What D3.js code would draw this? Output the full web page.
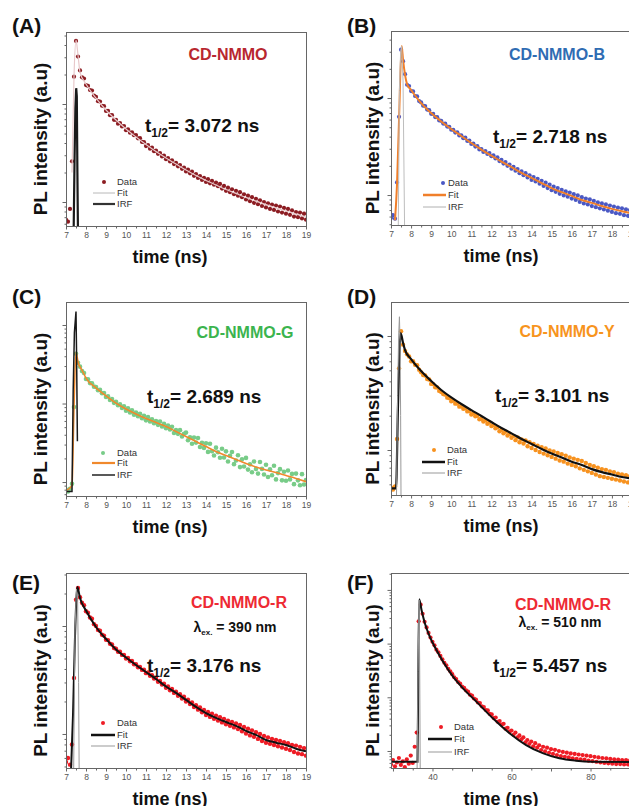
<!DOCTYPE html>
<html>
<head>
<meta charset="utf-8">
<script src="https://cdn.jsdelivr.net/npm/d3@7"></script>
<style>
  body { margin: 0; background: #fff; }
  svg { display: block; }
  text { font-family: "Liberation Sans", Arial, sans-serif; }
</style>
</head>
<body>
<svg id="fig" width="629" height="806"></svg>
<script>
// ---- values ----
// decay data: counts per channel, panels A-E start at 7.0 ns with 0.1 ns spacing,
// panel F starts at 29.5 ns with 0.5 ns spacing
const dataStartNs = 7.0, dataStepNs = 0.1;
const dataStartF = 29.5, dataStepF = 0.5;

const sampleNames = ["CD-NMMO", "CD-NMMO-B", "CD-NMMO-G", "CD-NMMO-Y", "CD-NMMO-R", "CD-NMMO-R"];
const halfLives = ["3.072", "2.718", "2.689", "3.101", "3.176", "5.457"];
const excitation = [null, null, null, null, "390", "510"];
const legendLabels = ["Data", "Fit", "IRF"];
const timeTicks = [7, 8, 9, 10, 11, 12, 13, 14, 15, 16, 17, 18, 19];
const timeTicksF = [30, 40, 50, 60, 70, 80, 90];
const timeLabelsF = [40, 60, 80];

const dataA = [
  66, 63, 85, 260, 1900, 4400, 3050, 2200, 1870, 1820,
  1560, 1530, 1390, 1370, 1220, 1180, 1070, 1060, 960, 950,
  850, 850, 770, 770, 690, 690, 630, 640, 590, 595,
  540, 552, 510, 515, 480, 482, 446, 448, 410, 408,
  372, 381, 350, 358, 330, 335, 310, 316, 292, 297,
  273, 281, 259, 266, 244, 251, 231, 238, 218, 225,
  205, 214, 196, 204, 185, 193, 176, 184, 168, 176,
  160, 171, 155, 164, 150, 158, 145, 153, 137, 146,
  130, 140, 126, 135, 120, 130, 116, 126, 112, 120,
  106, 116, 102, 112, 98, 108, 95, 104, 91, 100,
  88, 97, 85, 94, 83, 92, 80, 90, 78, 87,
  76, 85, 74, 82, 71, 79, 70, 78, 68, 76,
  66
];
const fitA = [[7.3, 200], [7.4, 1900], [7.5, 4500], [7.6, 3160], [7.7, 2120], [8.0, 1600], [8.5, 1150],
  [9.0, 869], [9.5, 687], [10.0, 556], [10.5, 461], [11.0, 386], [11.5, 327], [12.0, 281], [12.5, 244],
  [13.0, 212], [13.5, 186], [14.0, 166], [14.5, 149], [15.0, 134], [15.5, 122], [16.0, 111], [16.5, 102],
  [17.0, 94], [17.5, 87], [18.0, 81], [18.5, 75.5], [19.0, 70]];
const irfA = [[7.38, 45], [7.43, 300], [7.47, 900], [7.51, 1450], [7.54, 1200], [7.57, 200], [7.6, 45]];

const dataB = [
  58, 62, 57, 135, 640, 3150, 2400, 1760, 1370, 1330,
  1180, 1170, 1050, 1040, 930, 900, 835, 826, 760, 750,
  688, 686, 637, 635, 588, 582, 545, 544, 508, 506,
  471, 470, 440, 444, 412, 413, 385, 390, 361, 364,
  336, 340, 316, 319, 295, 298, 278, 284, 265, 271,
  251, 257, 238, 244, 224, 230, 211, 219, 200, 206,
  187, 195, 178, 185, 168, 175, 160, 168, 152, 160,
  143, 153, 138, 147, 131, 140, 124, 134, 118, 128,
  112, 122, 108, 118, 103, 113, 99, 109, 96, 106,
  92, 102, 89, 99, 85, 95, 82, 92, 80, 90,
  77, 87, 75, 84, 73, 82, 71, 80, 69, 78,
  67, 76, 65, 74, 64, 73, 62, 71, 61, 70,
  60
];
const fitB = [[7.2, 55], [7.3, 130], [7.4, 600], [7.53, 3440], [7.6, 2470], [7.7, 1730], [7.8, 1390],
  [8.0, 1210], [8.5, 887], [9.0, 700], [9.5, 573], [10.0, 479], [10.5, 406], [11.0, 344], [11.5, 294],
  [12.0, 255], [12.5, 221], [13.0, 194], [13.5, 169], [14.0, 150], [14.5, 133], [15.0, 118], [15.5, 107],
  [16.0, 98], [16.5, 89], [17.0, 83], [17.5, 77], [18.0, 72], [18.5, 68], [19.0, 65]];
const irfB = [[7.36, 40], [7.42, 1200], [7.48, 3000], [7.53, 3400], [7.6, 1500], [7.68, 40]];

const dataC = [
  80, 76, 82, 95, 900, 4300, 3300, 2950, 2600, 2450,
  2050, 2040, 1820, 1810, 1640, 1620, 1480, 1490, 1350, 1360,
  1210, 1240, 1110, 1140, 1020, 1050, 950, 980, 880, 920,
  810, 870, 770, 820, 720, 770, 690, 740, 650, 700,
  610, 670, 590, 630, 560, 600, 535, 590, 510, 550,
  484, 525, 467, 505, 422, 458, 411, 458, 380, 412,
  426, 340, 370, 307, 368, 318, 364, 279, 316, 272,
  311, 242, 308, 247, 218, 274, 240, 204, 266, 205,
  246, 183, 216, 241, 169, 188, 219, 155, 195, 158,
  203, 144, 168, 133, 183, 147, 128, 180, 147, 125,
  166, 116, 145, 122, 161, 108, 130, 146, 105, 135,
  104, 140, 108, 127, 94, 128, 105, 91, 126, 93,
  106
];
const fitC = [[7.0, 78], [7.3, 90], [7.4, 900], [7.5, 4530], [7.6, 3380], [7.8, 2670], [8.0, 2110],
  [8.5, 1580], [9.0, 1250], [9.5, 1010], [10.0, 851], [10.5, 735], [11.0, 644], [11.5, 573], [12.0, 509],
  [12.5, 440], [13.0, 380], [13.5, 328], [14.0, 283], [14.5, 245], [15.0, 218], [15.5, 194], [16.0, 172],
  [16.5, 155], [17.0, 142], [17.5, 132], [18.0, 121], [18.5, 111], [19.0, 101]];
const irfC = [[7.0, 76], [7.3, 76], [7.36, 1500], [7.42, 8000], [7.5, 14800], [7.53, 4000], [7.57, 330]];

const dataD = [
  47, 45, 48, 125, 520, 1100, 840, 740, 690, 660,
  600, 600, 560, 555, 505, 480, 455, 450, 420, 415,
  380, 378, 355, 353, 330, 322, 310, 306, 288, 285,
  268, 271, 255, 256, 240, 242, 230, 232, 218, 220,
  205, 210, 198, 200, 186, 188, 178, 182, 170, 174,
  162, 166, 155, 158, 146, 150, 140, 145, 134, 139,
  128, 133, 122, 129, 117, 124, 114, 121, 108, 117,
  104, 113, 100, 109, 96, 106, 93, 103, 90, 99,
  87, 97, 84, 94, 81, 92, 79, 89, 76, 86,
  74, 84, 72, 82, 69, 80, 67, 77, 65, 74,
  63, 72, 61, 70, 59, 68, 58, 67, 57, 65,
  56, 64, 55, 62, 54, 61, 53, 60, 52, 59,
  51
];
const fitD = [[7.0, 46], [7.25, 46], [7.35, 250], [7.48, 1060], [7.6, 868], [7.7, 753], [8.0, 628],
  [8.5, 493], [9.0, 403], [9.5, 336], [10.0, 289], [10.5, 253], [11.0, 224], [11.5, 199], [12.0, 176],
  [12.5, 156], [13.0, 140], [13.5, 125], [14.0, 113], [14.5, 102], [15.0, 93], [15.5, 86], [16.0, 79],
  [16.5, 74], [17.0, 68], [17.5, 64], [18.0, 61], [18.5, 58], [19.0, 56]];
const irfD = [[7.27, 35], [7.33, 300], [7.38, 1000], [7.42, 1475], [7.45, 900], [7.48, 200], [7.5, 35]];

const dataE = [
  55, 60, 52, 80, 330, 1750, 2250, 1850, 1640, 1560,
  1370, 1330, 1200, 1170, 1040, 1000, 920, 905, 830, 815,
  745, 740, 685, 675, 625, 615, 578, 577, 540, 538,
  500, 505, 472, 474, 442, 443, 415, 418, 392, 394,
  366, 372, 346, 350, 326, 330, 305, 310, 287, 292,
  268, 275, 254, 261, 240, 246, 226, 233, 213, 221,
  200, 208, 189, 196, 178, 185, 168, 176, 159, 167,
  150, 160, 144, 154, 138, 148, 133, 143, 128, 138,
  123, 133, 119, 129, 115, 125, 111, 121, 106, 116,
  101, 112, 97, 108, 94, 104, 90, 100, 86, 96,
  83, 93, 81, 90, 79, 88, 77, 86, 75, 84,
  73, 82, 71, 79, 68, 78, 66, 76, 65, 74,
  63
];
const fitE = [[7.25, 45], [7.35, 150], [7.45, 800], [7.57, 2300], [7.7, 1820], [8.0, 1390], [8.5, 980],
  [9.0, 759], [9.5, 606], [10.0, 511], [10.5, 435], [11.0, 375], [11.5, 323], [12.0, 275], [12.5, 240],
  [13.0, 207], [13.5, 178], [14.0, 156], [14.5, 141], [15.0, 129], [15.5, 119], [16.0, 107], [16.5, 98],
  [17.0, 88], [17.5, 83], [18.0, 79], [18.5, 73], [19.0, 69]];
const irfE = [[7.38, 40], [7.45, 900], [7.52, 2200], [7.58, 1800], [7.63, 300], [7.66, 40]];

const dataF = [
  5.6, 6.8, 5.2, 6.1, 7.4, 5.5, 6.4, 5.0, 7.0, 5.8,
  8.2, 6.0, 12, 22, 2600, 5300, 3600, 2550, 2000, 1580,
  1300, 1080, 930, 770, 690, 590, 510, 440, 395, 340,
  305, 270, 236, 218, 192, 180, 158, 150, 134, 127,
  112, 108, 95, 91, 80, 78, 68, 66, 58, 57,
  49, 48, 41, 42, 35, 36, 31, 32, 26, 27,
  23, 24, 20, 22, 18, 19.5, 16.5, 18, 14.5, 16,
  13.5, 15, 12.2, 14, 11.5, 12.8, 10.4, 12, 9.8, 11.5,
  9.2, 10.8, 8.8, 10.5, 8.4, 10, 8.0, 9.6, 7.8, 9.3,
  7.6, 9.0, 7.3, 8.8, 7.1, 8.6, 7.0, 8.4, 6.9, 8.2,
  6.6, 8.0, 6.5, 7.8, 6.3, 7.6, 6.1, 7.4, 6.0, 7.3,
  5.9, 7.1, 5.8, 7.0, 5.7, 6.9, 5.7, 6.8, 5.6, 6.8,
  5.6, 6.7, 5.5
];
const fitF = [[29.5, 6.3], [36.2, 6.3], [36.4, 250], [36.64, 6680], [37.23, 4230], [38.07, 2390],
  [39.33, 1340], [41.0, 760], [42.69, 460], [45.2, 242], [47.73, 147], [51.1, 83], [55.29, 40.6],
  [59.5, 21.4], [63.7, 12.9], [67.9, 9.1], [72.1, 7.3], [76.3, 6.6], [80.5, 6.3], [90.5, 6.2]];
const irfF = [[36.1, 4], [36.35, 300], [36.6, 6500], [36.75, 500], [36.9, 4]];

// ---- layout and styling per panel ----
const panels = [
  { id: "A", data: dataA, t0: dataStartNs, dt: dataStepNs, fit: fitA, irf: irfA,
    box: [66, 306, 32, 226], xDomain: [7, 19], yDomain: [56.9, 5430],
    dataColor: "#8c1c22", r: 2.1, fitColor: "#e8c8ca", fitW: 1.2, irfColor: "#1a1a1a", irfW: 2.2,
    legFit: ["#b8b8b8", 1], legIrf: ["#333", 2.2],
    titleColor: "#b8272f", titleX: 228, titleY: 60, tX: 145, tY: 132,
    tagX: 12, tagY: 33, yLabX: 47, xLabX: 170,
    legend: { dot: 104, x0: 93, x1: 115, tx: 117, rows: [182, 193, 204] } },
  { id: "B", data: dataB, t0: dataStartNs, dt: dataStepNs, fit: fitB, irf: irfB,
    box: [391, 632, 31, 225], xDomain: [7, 19], yDomain: [49.1, 4910],
    dataColor: "#4a58c4", r: 2.1, fitColor: "#f07f2a", fitW: 2, irfColor: "#bdbdbd", irfW: 1,
    legFit: ["#f07f2a", 2.5], legIrf: ["#b0b0b0", 1],
    titleColor: "#2f6cb3", titleX: 557, titleY: 60, tX: 493, tY: 143,
    tagX: 347, tagY: 33, yLabX: 379, xLabX: 501,
    legend: { dot: 443, x0: 423, x1: 446, tx: 448, rows: [183, 195, 207] } },
  { id: "C", data: dataC, t0: dataStartNs, dt: dataStepNs, fit: fitC, irf: irfC,
    box: [66, 306, 302, 496], xDomain: [7, 19], yDomain: [66.4, 19630],
    dataColor: "#78cc88", r: 2.3, fitColor: "#f0892c", fitW: 1.6, irfColor: "#1a1a1a", irfW: 1.5,
    legFit: ["#f0892c", 2.2], legIrf: ["#222", 1.5],
    titleColor: "#3bb44e", titleX: 245, titleY: 338, tX: 147, tY: 403,
    tagX: 12, tagY: 304, yLabX: 47, xLabX: 170,
    legend: { dot: 103, x0: 92, x1: 115, tx: 117, rows: [453, 463, 475] } },
  { id: "D", data: dataD, t0: dataStartNs, dt: dataStepNs, fit: fitD, irf: irfD,
    box: [391, 632, 302, 495], xDomain: [7, 19], yDomain: [40.3, 1987],
    dataColor: "#f7921f", r: 2.2, fitColor: "#111", fitW: 2.2, irfColor: "#999", irfW: 1,
    legFit: ["#111", 2.5], legIrf: ["#999", 1],
    titleColor: "#f7941d", titleX: 567, titleY: 337, tX: 495, tY: 402,
    tagX: 347, tagY: 304, yLabX: 379, xLabX: 501,
    legend: { dot: 434, x0: 422, x1: 445, tx: 447, rows: [450, 462, 473] } },
  { id: "E", data: dataE, t0: dataStartNs, dt: dataStepNs, fit: fitE, irf: irfE,
    box: [66, 306, 573, 768], xDomain: [7, 19], yDomain: [48.4, 3097],
    dataColor: "#ee1c25", r: 2.2, fitColor: "#111", fitW: 2, irfColor: "#999", irfW: 1,
    legFit: ["#111", 2.5], legIrf: ["#999", 1],
    titleColor: "#ee2a33", titleX: 239, titleY: 608, tX: 147, tY: 672, lamX: 235, lamY: 632,
    tagX: 12, tagY: 590, yLabX: 47, xLabX: 170,
    legend: { dot: 103, x0: 91, x1: 115, tx: 117, rows: [723, 735, 746] } },
  { id: "F", data: dataF, t0: dataStartF, dt: dataStepF, fit: fitF, irf: irfF,
    box: [391, 632, 573, 768], xDomain: [29.5, 90.5], yDomain: [4.82, 20650],
    dataColor: "#ee1c25", r: 2.1, fitColor: "#111", fitW: 2, irfColor: "#999", irfW: 1,
    legFit: ["#111", 2.5], legIrf: ["#999", 1],
    titleColor: "#ee2a33", titleX: 563, titleY: 610, tX: 493, tY: 672, lamX: 560, lamY: 627,
    tagX: 347, tagY: 590, yLabX: 379, xLabX: 501,
    legend: { dot: 441, x0: 428, x1: 452, tx: 454, rows: [727, 739, 752] } }
];

const svg = d3.select("#fig");

panels.forEach((p, i) => drawPanel(p, i));

function drawPanel(p, i) {
  const [left, right, top, bottom] = p.box;
  const g = svg.append("g").attr("class", "panel-" + p.id);

  const x = d3.scaleLinear().domain(p.xDomain).range([left, right]);
  const y = d3.scaleLog().domain(p.yDomain).range([bottom, top]);

  svg.append("clipPath").attr("id", "clip" + p.id)
    .append("rect")
    .attr("x", left).attr("y", top)
    .attr("width", right - left).attr("height", bottom - top);

  const plot = g.append("g").attr("clip-path", `url(#clip${p.id})`);

  plot.append("g")
    .selectAll("circle")
    .data(p.data)
    .join("circle")
    .attr("cx", (d, k) => x(p.t0 + k * p.dt))
    .attr("cy", d => y(d))
    .attr("r", p.r)
    .attr("fill", p.dataColor);

  const smooth = d3.line().x(d => x(d[0])).y(d => y(d[1])).curve(d3.curveMonotoneX);
  const straight = d3.line().x(d => x(d[0])).y(d => y(d[1]));

  plot.append("path")
    .datum(p.fit)
    .attr("d", smooth)
    .attr("fill", "none")
    .attr("stroke", p.fitColor)
    .attr("stroke-width", p.fitW);

  plot.append("path")
    .datum(p.irf)
    .attr("d", straight)
    .attr("fill", "none")
    .attr("stroke", p.irfColor)
    .attr("stroke-width", p.irfW);

  // frame
  g.append("rect")
    .attr("x", left + 0.5).attr("y", top + 0.5)
    .attr("width", right - left).attr("height", bottom - top)
    .attr("fill", "none")
    .attr("stroke", "#666")
    .attr("stroke-width", 1);

  // x axis
  let majors, minors, fmt;
  if (p.id === "F") {
    majors = timeTicksF;
    minors = timeTicksF.slice(0, -1).map(v => v + 5);
    fmt = d => timeLabelsF.includes(d) ? d : "";
  } else {
    majors = timeTicks;
    minors = timeTicks.slice(0, -1).map(v => v + 0.5);
    fmt = d3.format("d");
  }
  const xAxis = g.append("g")
    .attr("transform", `translate(0,${bottom + 0.5})`)
    .call(d3.axisBottom(x).tickValues(majors).tickSize(3).tickPadding(2).tickFormat(fmt));
  const xMinor = g.append("g")
    .attr("transform", `translate(0,${bottom + 0.5})`)
    .call(d3.axisBottom(x).tickValues(minors).tickSize(2).tickFormat(""));

  // y axis (log, no labels)
  const yMaj = [], yMin = [];
  const k0 = Math.floor(Math.log10(p.yDomain[0])), k1 = Math.ceil(Math.log10(p.yDomain[1]));
  for (let k = k0; k <= k1; k++) {
    for (let m = 1; m < 10; m++) {
      const v = m * Math.pow(10, k);
      if (v >= p.yDomain[0] && v <= p.yDomain[1]) (m === 1 ? yMaj : yMin).push(v);
    }
  }
  const yAxis = g.append("g")
    .attr("transform", `translate(${left + 0.5},0)`)
    .call(d3.axisLeft(y).tickValues(yMaj).tickSize(4).tickFormat(""));
  const yMinor = g.append("g")
    .attr("transform", `translate(${left + 0.5},0)`)
    .call(d3.axisLeft(y).tickValues(yMin).tickSize(2).tickFormat(""));

  [xAxis, xMinor, yAxis, yMinor].forEach(a => {
    a.select(".domain").remove();
    a.selectAll("line").attr("stroke", "#666");
    a.selectAll("text")
      .attr("fill", "#555")
      .style("font-size", "8.5px");
  });

  // panel tag
  g.append("text")
    .attr("x", p.tagX).attr("y", p.tagY)
    .style("font-size", "21px").style("font-weight", "bold")
    .attr("fill", "#111")
    .text(`(${p.id})`);

  // axis titles
  g.append("text")
    .attr("transform", `translate(${p.yLabX},${(top + bottom) / 2 + 10}) rotate(-90)`)
    .attr("text-anchor", "middle")
    .style("font-size", "19px").style("font-weight", "bold")
    .attr("fill", "#111")
    .text("PL intensity (a.u)");

  g.append("text")
    .attr("x", p.xLabX).attr("y", bottom + 37)
    .attr("text-anchor", "middle")
    .style("font-size", "18px").style("font-weight", "bold")
    .attr("fill", "#111")
    .text("time (ns)");

  // sample name
  g.append("text")
    .attr("x", p.titleX).attr("y", p.titleY)
    .attr("text-anchor", "middle")
    .style("font-size", "16px").style("font-weight", "bold")
    .attr("fill", p.titleColor)
    .text(sampleNames[i]);

  // excitation wavelength
  if (excitation[i]) {
    const lam = g.append("text")
      .attr("x", p.lamX).attr("y", p.lamY)
      .attr("text-anchor", "middle")
      .style("font-size", "14px").style("font-weight", "bold")
      .attr("fill", "#111");
    lam.append("tspan").text("λ");
    lam.append("tspan").attr("dy", 3).style("font-size", "8px").text("ex.");
    lam.append("tspan").attr("dy", -3).text(` = ${excitation[i]} nm`);
  }

  // half-life
  const th = g.append("text")
    .attr("x", p.tX).attr("y", p.tY)
    .style("font-size", "19px").style("font-weight", "bold")
    .attr("fill", "#111");
  th.append("tspan").text("t");
  th.append("tspan").attr("dy", 5).style("font-size", "12px").text("1/2");
  th.append("tspan").attr("dy", -5).text(`= ${halfLives[i]} ns`);

  // legend
  const L = p.legend;
  const leg = g.append("g").style("font-size", "9.5px").attr("fill", "#333");
  leg.append("circle")
    .attr("cx", L.dot).attr("cy", L.rows[0]).attr("r", 2)
    .attr("fill", p.dataColor);
  leg.append("line")
    .attr("x1", L.x0).attr("x2", L.x1).attr("y1", L.rows[1]).attr("y2", L.rows[1])
    .attr("stroke", p.legFit[0]).attr("stroke-width", p.legFit[1]);
  leg.append("line")
    .attr("x1", L.x0).attr("x2", L.x1).attr("y1", L.rows[2]).attr("y2", L.rows[2])
    .attr("stroke", p.legIrf[0]).attr("stroke-width", p.legIrf[1]);
  leg.selectAll("text")
    .data(legendLabels)
    .join("text")
    .attr("x", L.tx)
    .attr("y", (d, k) => L.rows[k])
    .attr("dy", "0.35em")
    .text(d => d);
}
</script>
</body>
</html>
